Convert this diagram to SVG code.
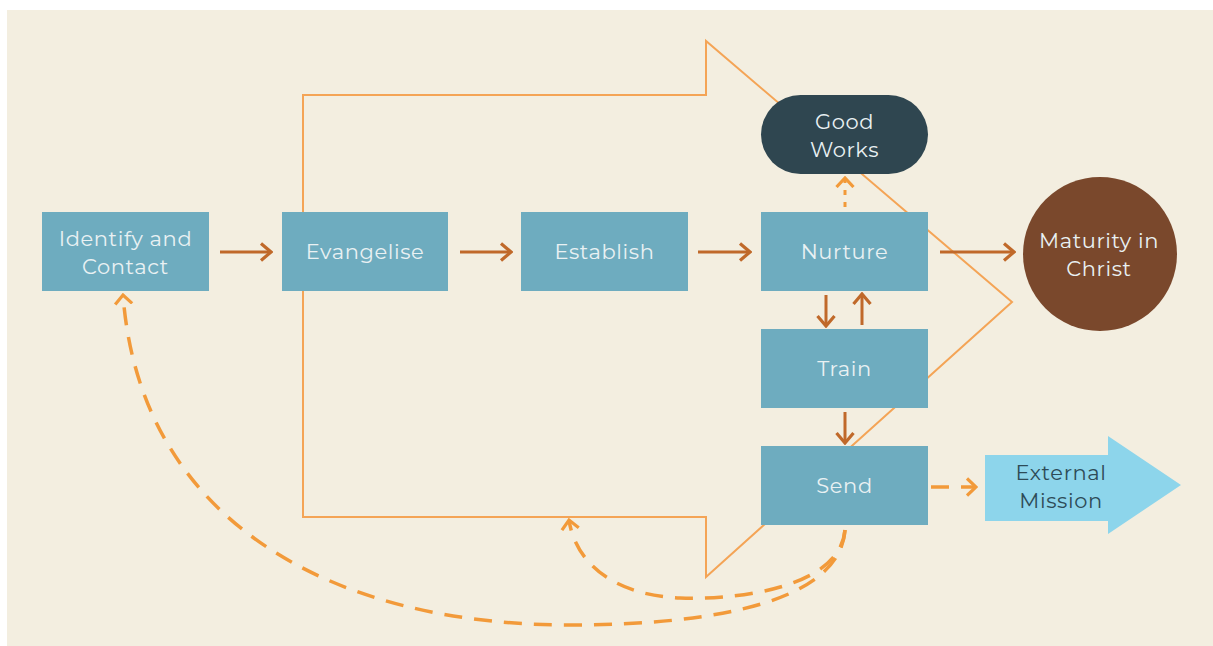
<svg xmlns="http://www.w3.org/2000/svg" width="1213" height="646" viewBox="0 0 1213 646">
<defs>
<style>
.box{fill:#6eacbf}
.lbl{font-family:"Montserrat","Open Sans","Liberation Sans",sans-serif;font-size:21px;letter-spacing:0.6px;fill:#e9f1f3;text-anchor:middle}
.dark{fill:#2f4650}
.flow{stroke:#c0692a;stroke-width:3;fill:none}
.dash{stroke:#f29a3a;stroke-width:3.5;fill:none;stroke-dasharray:18 12}
.dot{stroke:#f29a3a;stroke-width:3;fill:none;stroke-dasharray:5 7}
.outline{stroke:#f4a456;stroke-width:2;fill:none}
</style>
<marker id="ah" viewBox="0 0 14 20" refX="12" refY="10" markerWidth="14" markerHeight="20" markerUnits="userSpaceOnUse" orient="auto"><path d="M2,1.5 L12,10 L2,18.5" fill="none" stroke="#c0692a" stroke-width="3.2"/></marker>
<marker id="ao" viewBox="0 0 12 20" refX="10" refY="10" markerWidth="12" markerHeight="20" markerUnits="userSpaceOnUse" orient="auto"><path d="M1,1.5 L10,10 L1,18.5" fill="none" stroke="#f29a3a" stroke-width="3.2"/></marker>
</defs>
<rect x="7" y="10" width="1206" height="636" fill="#f3eee0"/>
<g id="big-arrow">
<path class="outline" d="M303,291 L303,95 L706,95 L706,41 L1012,302 L706,577 L706,517 L303,517 L303,291"/>
</g>
<g id="connectors">
<line class="flow" x1="220" y1="252" x2="271" y2="252" marker-end="url(#ah)"/>
<line class="flow" x1="460" y1="252" x2="511" y2="252" marker-end="url(#ah)"/>
<line class="flow" x1="698" y1="252" x2="750" y2="252" marker-end="url(#ah)"/>
<line class="flow" x1="940" y1="252" x2="1014" y2="252" marker-end="url(#ah)"/>
<line class="flow" x1="826" y1="295" x2="826" y2="326" marker-end="url(#ah)"/>
<line class="flow" x1="862" y1="325" x2="862" y2="294" marker-end="url(#ah)"/>
<line class="flow" x1="845" y1="412" x2="845" y2="443" marker-end="url(#ah)"/>
<line class="dot" x1="845" y1="207" x2="845" y2="178" marker-end="url(#ao)"/>
<line class="dash" x1="931" y1="487" x2="976" y2="487" stroke-dasharray="10 8" marker-end="url(#ao)"/>
<path class="dash" d="M845,530 C840,600 720,625 570,625 C330,625 140,520 123,295" marker-end="url(#ao)"/>
<path class="dash" d="M845,530 C840,590 730,600 680,598 C610,595 575,560 569,520" marker-end="url(#ao)"/>
</g>
<g id="identify">
<rect class="box" x="42" y="212" width="167" height="79"/>
<text class="lbl" x="125.5" y="246">Identify and</text>
<text class="lbl" x="125.5" y="274">Contact</text>
</g>
<g id="evangelise">
<rect class="box" x="282" y="212" width="166" height="79"/>
<text class="lbl" x="365" y="259">Evangelise</text>
</g>
<g id="establish">
<rect class="box" x="521" y="212" width="167" height="79"/>
<text class="lbl" x="604.5" y="259">Establish</text>
</g>
<g id="nurture">
<rect class="box" x="761" y="212" width="167" height="79"/>
<text class="lbl" x="844.5" y="259">Nurture</text>
</g>
<g id="train">
<rect class="box" x="761" y="329" width="167" height="79"/>
<text class="lbl" x="844.5" y="376">Train</text>
</g>
<g id="send">
<rect class="box" x="761" y="446" width="167" height="79"/>
<text class="lbl" x="844.5" y="493">Send</text>
</g>
<g id="good-works">
<rect class="dark" x="761" y="95" width="167" height="79" rx="39.5"/>
<text class="lbl" x="844.5" y="129">Good</text>
<text class="lbl" x="844.5" y="157">Works</text>
</g>
<g id="maturity">
<circle cx="1100" cy="254" r="77" fill="#7a482c"/>
<text class="lbl" x="1099" y="248">Maturity in</text>
<text class="lbl" x="1099" y="276">Christ</text>
</g>
<g id="external-mission">
<path d="M985,455 L1108,455 L1108,436 L1181,485 L1108,534 L1108,521 L985,521 Z" fill="#8dd5eb"/>
<text class="lbl" x="1061" y="480" style="fill:#2d4b57">External</text>
<text class="lbl" x="1061" y="508" style="fill:#2d4b57">Mission</text>
</g>
</svg>
